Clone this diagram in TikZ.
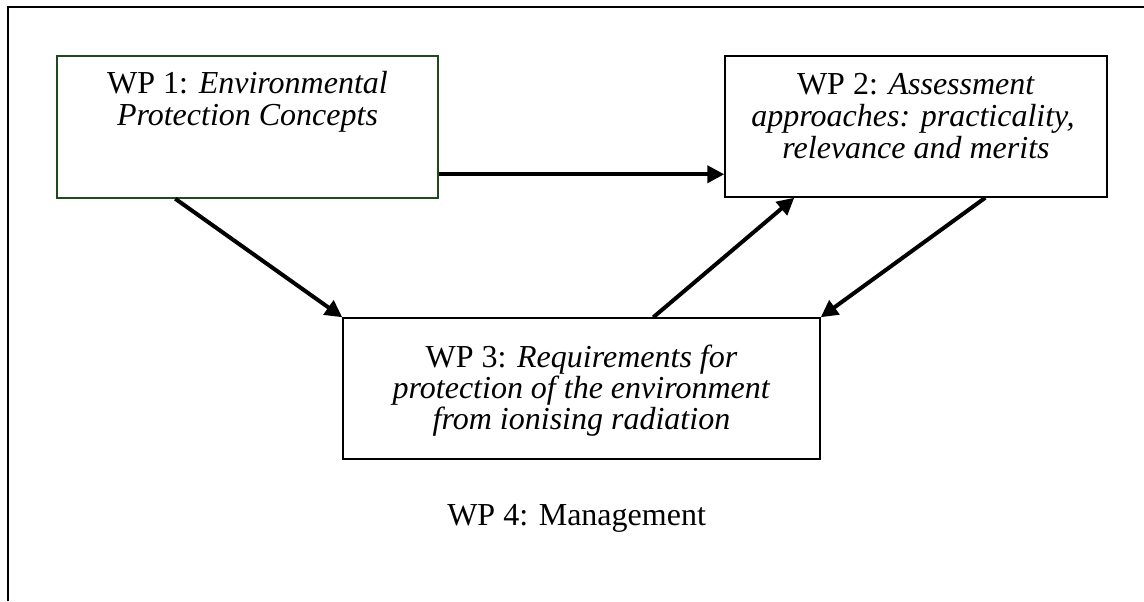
\documentclass[tikz,border=0pt]{standalone}
\usepackage{fontspec}
\setmainfont{Liberation Serif}
\usetikzlibrary{arrows.meta,calc}
\definecolor{boxgreen}{RGB}{30,75,30}
\begin{document}
\begin{tikzpicture}[x=0.75pt,y=-0.75pt,
  wpbox/.style={draw, line width=1.1pt, rectangle, inner sep=0pt},
  wptext/.style={anchor=base, inner sep=0pt, font=\fontsize{24}{26}\selectfont},
  flow/.style={line width=3pt, -{Triangle[length=12.75pt,width=12.75pt]}}]
\useasboundingbox (0,0) rectangle (1144,601);
% outer frame (only left and top edges visible)
\coordinate (fb) at (8,601);
\coordinate (fc) at (8,7);
\coordinate (fr) at (1144,7);
\draw[line width=1.1pt] (fb) -- (fc) -- (fr);
% boxes
\node[wpbox, draw=boxgreen, minimum width=285.75pt, minimum height=106.5pt] (wp1) at (247.5,127) {};
\node[wpbox, minimum width=286.5pt, minimum height=105.75pt] (wp2) at (916,126.5) {};
\node[wpbox, minimum width=357.75pt, minimum height=105.75pt] (wp3) at (581.5,388.5) {};
% texts
\node[wptext] (t1a) at (247.5,93) {WP 1: \textit{Environmental}};
\node[wptext] (t1b) at (247.5,125) {\textit{Protection Concepts}};
\node[wptext] (t2a) at (916,94) {WP 2: \textit{Assessment}};
\node[wptext] (t2b) at (913,126) {\textit{approaches: practicality,}};
\node[wptext] (t2c) at (916,158) {\textit{relevance and merits}};
\node[wptext] (t3a) at (581.5,367) {WP 3: \textit{Requirements for}};
\node[wptext] (t3b) at (581.5,398) {\textit{protection of the environment}};
\node[wptext] (t3c) at (581.5,429) {\textit{from ionising radiation}};
\node[wptext, anchor=base west] (t4) at (447,525) {WP 4: Management};
% connectors
\draw[flow] ($(wp1.north east)+(0,119)$) -- ($(wp2.north west)+(0,119)$);
\draw[flow] ($(wp1.south west)+(119,0)$) -- (wp3.north west);
\draw[flow] ($(wp3.north west)+(311,0)$) -- ($(wp2.south west)+(70,0)$);
\draw[flow] ($(wp2.south west)+(261,0)$) -- (wp3.north east);
\end{tikzpicture}
\end{document}
